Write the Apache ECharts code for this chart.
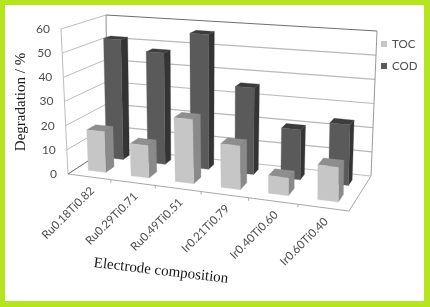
<!DOCTYPE html>
<html><head><meta charset="utf-8">
<style>html,body{margin:0;padding:0;background:#fff}#c{width:430px;height:307px}</style>
<script src="https://cdn.jsdelivr.net/npm/echarts@6/dist/echarts.min.js"></script>
</head><body><div id="c"></div>
<script>
const categories = ['Ru0.18Ti0.82','Ru0.29Ti0.71','Ru0.49Ti0.51','Ir0.21Ti0.79','Ir0.40Ti0.60','Ir0.60Ti0.40'];
const toc = [17, 13.3, 26, 17.5, 7, 13.5];
const cod = [52, 47.7, 57, 36, 20.5, 24.5];
const yTicks = [0,10,20,30,40,50,60];
const yTitle = 'Degradation / %';
const xTitle = 'Electrode composition';

// plot box: grid rectangle plus the corners of the tilted 3D box it is warped onto
const G = {left:68, right:349, top:29, bottom:174};
const C = {
  fb0:[68,174], fb1:[349,211], bb0:[108,148], bb1:[371,176],
  ft0:[61,29],  ft1:[350,53],  bt0:[106,15],  bt1:[377,31]
};
const PERSP=0.1;
const L=(a,b,t)=>[a[0]+(b[0]-a[0])*t,a[1]+(b[1]-a[1])*t];
function warp(u,v,h){
  const w=(1-PERSP)*u/(1-PERSP*u);
  const f=L(L(C.fb0,C.fb1,w),L(C.bb0,C.bb1,w),v);
  const t=L(L(C.ft0,C.ft1,w),L(C.bt0,C.bt1,w),v);
  return L(f,t,h);
}
const uOf=p=>(p[0]-G.left)/(G.right-G.left);
const hOf=p=>(G.bottom-p[1])/(G.bottom-G.top);
const TEXT='#4d4d4d';
const sans='Lato';

function barSeries(name,vals,v0,v1,shift,front,side,top){
  return {
    type:'custom',name,clip:false,coordinateSystem:'cartesian2d',
    itemStyle:{color:front},
    data:vals.map((y,i)=>[i,y]),
    encode:{x:0,y:1},
    renderItem(p,api){
      const c=api.coord([api.value(0),api.value(1)]);
      const u=uOf(c)+shift, h=hOf(c);
      const hw=api.size([1,0])[0]*0.205/(G.right-G.left);
      const a=u-hw,b=u+hw;
      const poly=(pts,color)=>({type:'polygon',shape:{points:pts},style:{fill:color,stroke:color,lineWidth:0.3}});
      return {type:'group',children:[
        poly([warp(b,v0,0),warp(b,v1,0),warp(b,v1,h),warp(b,v0,h)],side),
        poly([warp(a,v0,h),warp(b,v0,h),warp(b,v1,h),warp(a,v1,h)],top),
        poly([warp(a,v0,0),warp(b,v0,0),warp(b,v0,h),warp(a,v0,h)],front)
      ]};
    }
  };
}
function line(a,b,color,w){return {type:'line',shape:{x1:a[0],y1:a[1],x2:b[0],y2:b[1]},style:{stroke:color,lineWidth:w}};}

const wallSeries={
  type:'custom',name:'walls',clip:false,silent:true,
  data:yTicks.map(t=>[0,t]),encode:{x:0,y:1},
  renderItem(p,api){
    const t=api.value(1);
    const h=hOf(api.coord([0,t]));
    const kids=[];
    if(t>0){
      kids.push(line(warp(0,1,h),warp(1,1,h),t===60?'#6e6e6e':'#b8b8b8',1.2));
    }
    kids.push(line(warp(0,0,h),warp(0,1,h),'#bdbdbd',1));
    const a=warp(0,0,h);
    kids.push({type:'text',style:{text:String(t),x:a[0]-11,y:a[1],align:'right',verticalAlign:'middle',
      font:'12px '+sans,fill:TEXT}});
    return {type:'group',children:kids};
  }
};
const frameSeries={
  type:'custom',name:'frame',clip:false,silent:true,
  data:[[0,0]],encode:{x:0,y:1},
  renderItem(){
    return {type:'group',children:[
      line(warp(0,1,0),warp(0,1,1),'#8f8f8f',1),
      line(warp(1,1,0),warp(1,1,1),'#9a9a9a',1),
      line(warp(0,0,0),warp(0,0,1),'#bdbdbd',1),
      line(warp(0,0,0),warp(1,0,0),'#a8a8a8',1),
      line(warp(1,0,0),warp(1,1,0),'#a8a8a8',1),
      line(warp(0,1,0),warp(1,1,0),'#bdbdbd',1),
      line(warp(0,0,0),warp(0,1,0),'#777',1)
    ]};
  }
};
const xLabelSeries={
  type:'custom',name:'xlabels',clip:false,silent:true,
  data:categories.map((n,i)=>[i,0]),encode:{x:0,y:1},
  renderItem(p,api){
    const i=api.value(0);
    const c=api.coord([i,0]);
    const bw=api.size([1,0])[0];
    const u=uOf(c);
    const f=warp(u,0,0);
    const tick=warp((c[0]+bw/2-G.left)/(G.right-G.left),0,0);
    const kids=[{type:'text',x:f[0]+3,y:f[1]+12,rotation:Math.PI/4,
      style:{text:categories[i],x:0,y:0,align:'right',verticalAlign:'middle',font:'11.5px '+sans,fill:TEXT}}];
    if(i<categories.length-1) kids.push(line(tick,[tick[0],tick[1]+3],'#a8a8a8',1));
    return {type:'group',children:kids};
  }
};

const chart=echarts.init(document.getElementById('c'),null,{renderer:'canvas'});
chart.setOption({
  animation:false,
  backgroundColor:'#B5E61D',
  graphic:[
    {type:'rect',z:-10,silent:true,shape:{x:5,y:5,width:419,height:296},style:{fill:'#fff'}},
    {type:'text',z:10,x:21,y:102,rotation:Math.PI/2,silent:true,
     style:{text:yTitle,x:0,y:0,align:'center',verticalAlign:'middle',font:'15px "Liberation Serif"',fill:'#1a1a1a'}},
    {type:'text',z:10,x:161,y:271,rotation:-6.7*Math.PI/180,silent:true,
     style:{text:xTitle,x:0,y:0,align:'center',verticalAlign:'middle',font:'15px "Liberation Serif"',fill:'#1a1a1a'}}
  ],
  grid:{left:G.left,right:430-G.right,top:G.top,bottom:307-G.bottom},
  xAxis:{type:'category',data:categories,show:false},
  yAxis:{type:'value',min:0,max:60,interval:10,show:false},
  legend:{show:true,orient:'vertical',left:376,top:33,itemWidth:6,itemHeight:6,itemGap:10,
    data:[{name:'TOC',icon:'rect'},{name:'COD',icon:'rect'}],
    textStyle:{fontFamily:sans,fontSize:11.5,color:TEXT},selectedMode:false},
  series:[
    wallSeries,frameSeries,xLabelSeries,
    barSeries('COD',cod,0.68,0.84,-0.003,'#5a5a5a','#343434','#3c3c3c'),
    barSeries('TOC',toc,0.2,0.42,0,'#c6c6c6','#8a8a8a','#8e8e8e')
  ]
});
</script></body></html>
